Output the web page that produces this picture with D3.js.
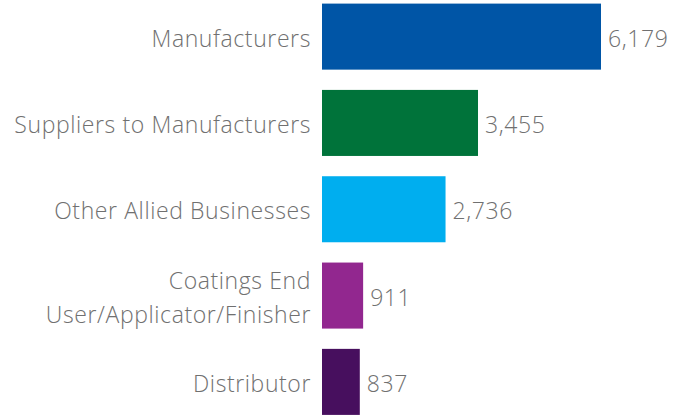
<!DOCTYPE html>
<html><head><meta charset="utf-8">
<script src="https://cdn.jsdelivr.net/npm/d3@7"></script>
<style>body{margin:0;background:#fff}svg{display:block}</style>
</head><body>
<svg id="chart" width="692" height="416"></svg>
<script>
const categories = ["Manufacturers", "Suppliers to Manufacturers", "Other Allied Businesses", "Coatings End\nUser/Applicator/Finisher", "Distributor"];
const values = [6179, 3455, 2736, 911, 837];
const colors = ["#0055A6", "#00733A", "#00AEEF", "#92278F", "#470F5E"];

const svg = d3.select("#chart");
const x = d3.scaleLinear().domain([0, 6179]).range([322, 601]);
const y = d3.scaleBand().domain(categories).range([-6.5, 425]).paddingInner(0.235).paddingOuter(0.117);
const font = "'Open Sans', sans-serif";
const fs = 23;
const ls = 0.6;
const textColor = "#707070";

const data = categories.map((c, i) => ({c, v: values[i], col: colors[i]}));

svg.selectAll("rect").data(data).join("rect")
  .attr("x", x(0)).attr("y", d => y(d.c))
  .attr("width", d => x(d.v) - x(0)).attr("height", y.bandwidth())
  .attr("fill", d => d.col);

svg.selectAll("text.val").data(data).join("text").attr("class", "val")
  .attr("x", d => x(d.v) + 7).attr("y", d => y(d.c) + y.bandwidth() / 2 + 2)
  .attr("dy", "0.35em")
  .attr("font-family", font).attr("font-size", fs).attr("font-weight", 300)
  .attr("letter-spacing", ls).attr("fill", textColor)
  .text(d => d3.format(",")(d.v));

const lab = svg.selectAll("text.lab").data(data).join("text").attr("class", "lab")
  .attr("text-anchor", "end")
  .attr("font-family", font).attr("font-size", fs).attr("font-weight", 300)
  .attr("letter-spacing", ls).attr("fill", textColor);
lab.each(function(d) {
  const lines = d.c.split("\n");
  const cy = y(d.c) + y.bandwidth() / 2 + 2;
  const lh = 34;
  d3.select(this).selectAll("tspan").data(lines).join("tspan")
    .attr("x", 311)
    .attr("y", (l, i) => cy + (i - (lines.length - 1) / 2) * lh)
    .attr("dy", "0.35em")
    .text(l => l);
});
</script>
</body></html>
